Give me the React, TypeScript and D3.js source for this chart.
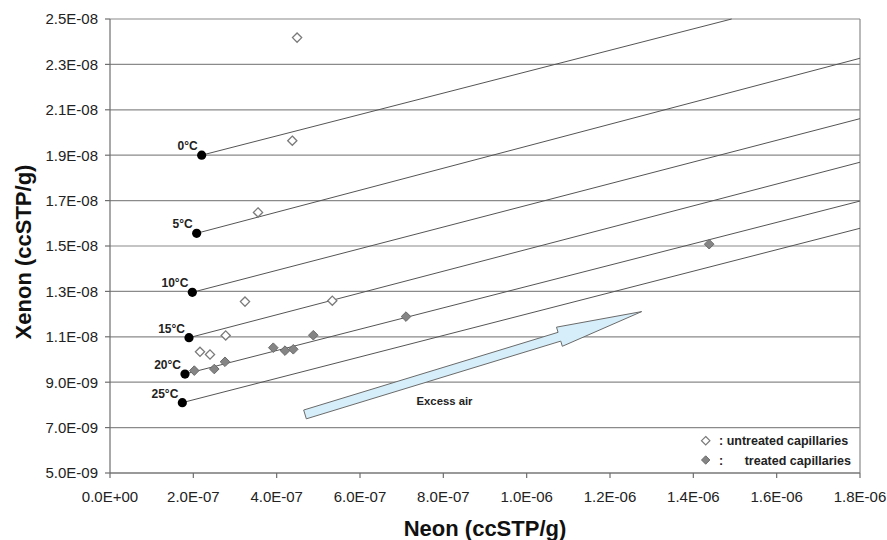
import React from "react";
import * as d3 from "d3";

// ---- data ----
const xTickValues = [0, 2e-7, 4e-7, 6e-7, 8e-7, 1.0e-6, 1.2e-6, 1.4e-6, 1.6e-6, 1.8e-6];
const xTickLabels = ["0.0E+00", "2.0E-07", "4.0E-07", "6.0E-07", "8.0E-07", "1.0E-06", "1.2E-06", "1.4E-06", "1.6E-06", "1.8E-06"];
const yTickValues = [5e-9, 7e-9, 9e-9, 1.1e-8, 1.3e-8, 1.5e-8, 1.7e-8, 1.9e-8, 2.1e-8, 2.3e-8, 2.5e-8];
const yTickLabels = ["5.0E-09", "7.0E-09", "9.0E-09", "1.1E-08", "1.3E-08", "1.5E-08", "1.7E-08", "1.9E-08", "2.1E-08", "2.3E-08", "2.5E-08"];

// equilibrium (black dots) per temperature
const tempLabels = ["0°C", "5°C", "10°C", "15°C", "20°C", "25°C"];
const eqNe = [2.2e-7, 2.08e-7, 1.976e-7, 1.896e-7, 1.8e-7, 1.736e-7];
const eqXe = [1.9e-8, 1.556e-8, 1.296e-8, 1.096e-8, 9.36e-9, 8.1e-9];
// excess-air line end points
const endNe = [1.492e-6, 1.8e-6, 1.8e-6, 1.8e-6, 1.8e-6, 1.8e-6];
const endXe = [2.5e-8, 2.327e-8, 2.061e-8, 1.869e-8, 1.698e-8, 1.578e-8];

// untreated capillaries (open diamonds)
const untreatedNe = [4.49e-7, 4.375e-7, 3.552e-7, 3.24e-7, 5.335e-7, 2.777e-7, 2.16e-7, 2.4e-7];
const untreatedXe = [2.418e-8, 1.964e-8, 1.648e-8, 1.255e-8, 1.259e-8, 1.106e-8, 1.034e-8, 1.022e-8];

// treated capillaries (grey diamonds)
const treatedNe = [2.023e-7, 2.503e-7, 2.76e-7, 3.919e-7, 4.2e-7, 4.399e-7, 4.879e-7, 7.104e-7, 1.438e-6];
const treatedXe = [9.51e-9, 9.58e-9, 9.9e-9, 1.052e-8, 1.039e-8, 1.045e-8, 1.107e-8, 1.189e-8, 1.508e-8];

// excess air arrow (tail centre -> tip)
const arrowNe = [4.68e-7, 1.276e-6];
const arrowXe = [7.58e-9, 1.211e-8];

const FONT = "'Liberation Sans', Arial, Helvetica, sans-serif";

function diamond(cx: number, cy: number, r: number) {
  return `M${cx},${cy - r}L${cx + r},${cy}L${cx},${cy + r}L${cx - r},${cy}Z`;
}

export default function App() {
  const W = 887, H = 540;
  const x = d3.scaleLinear().domain([0, 1.8e-6]).range([110, 860]);
  const y = d3.scaleLinear().domain([5e-9, 2.5e-8]).range([473, 19]);
  const [x0, x1] = x.range();
  const [yb, yt] = y.range();
  const grid = "#8a8a8a";

  // arrow geometry
  const tx = x(arrowNe[0]), ty = y(arrowXe[0]);
  const hx = x(arrowNe[1]), hy = y(arrowXe[1]);
  const len = Math.hypot(hx - tx, hy - ty);
  const ux = (hx - tx) / len, uy = (hy - ty) / len;
  const nx = -uy, ny = ux;
  const sw = 4.6, hw = 10, hl = 86;
  const bx = hx - ux * hl, by = hy - uy * hl;
  const arrowPts = [
    [tx + nx * sw, ty + ny * sw],
    [bx + nx * sw, by + ny * sw],
    [bx + nx * hw, by + ny * hw],
    [hx, hy],
    [bx - nx * hw, by - ny * hw],
    [bx - nx * sw, by - ny * sw],
    [tx - nx * sw, ty - ny * sw],
  ];
  const arrowPath = "M" + arrowPts.map((p) => p.join(",")).join("L") + "Z";

  return (
    <svg width={W} height={H} style={{ position: "absolute", left: 0, top: 0, background: "#fff" }} fontFamily={FONT}>
      {/* gridlines */}
      {yTickValues.map((v, i) => (
        <line key={"g" + i} x1={x0} x2={x1} y1={y(v)} y2={y(v)} stroke={grid} strokeWidth={1.2} />
      ))}
      {/* right border */}
      <line x1={x1} x2={x1} y1={yt} y2={yb} stroke={grid} strokeWidth={1.2} />
      {/* axes */}
      <line x1={x0} x2={x0} y1={yt} y2={yb} stroke="#6e6e6e" strokeWidth={1.2} />
      <line x1={x0} x2={x1} y1={yb} y2={yb} stroke="#6e6e6e" strokeWidth={1.2} />
      {yTickValues.map((v, i) => (
        <g key={"yt" + i}>
          <line x1={x0 - 5} x2={x0} y1={y(v)} y2={y(v)} stroke="#6e6e6e" strokeWidth={1.2} />
          <text x={98} y={y(v) + 5.3} fontSize={15} textAnchor="end" fill="#222">
            {yTickLabels[i]}
          </text>
        </g>
      ))}
      {xTickValues.map((v, i) => (
        <g key={"xt" + i}>
          <line x1={x(v)} x2={x(v)} y1={yb} y2={yb + 5} stroke="#6e6e6e" strokeWidth={1.2} />
          <text x={x(v)} y={501.5} fontSize={15} textAnchor="middle" fill="#222">
            {xTickLabels[i]}
          </text>
        </g>
      ))}

      {/* excess air lines */}
      {eqNe.map((v, i) => (
        <line key={"l" + i} x1={x(v)} y1={y(eqXe[i])} x2={x(endNe[i])} y2={y(endXe[i])} stroke="#555" strokeWidth={1} />
      ))}

      {/* arrow */}
      <path d={arrowPath} fill="#d5eef9" stroke="#6a6a6a" strokeWidth={1} />
      <text x={444.5} y={404.8} fontSize={11.3} fontWeight="bold" textAnchor="middle" fill="#222">
        Excess air
      </text>

      {/* untreated */}
      {untreatedNe.map((v, i) => (
        <path key={"u" + i} d={diamond(x(v), y(untreatedXe[i]), 4.6)} fill="#fff" stroke="#7a7a7a" strokeWidth={1.3} />
      ))}
      {/* treated */}
      {treatedNe.map((v, i) => (
        <path key={"t" + i} d={diamond(x(v), y(treatedXe[i]), 4.8)} fill="#858585" stroke="#6a6a6a" strokeWidth={1} />
      ))}

      {/* equilibrium points */}
      {eqNe.map((v, i) => (
        <g key={"e" + i}>
          <circle cx={x(v)} cy={y(eqXe[i])} r={4.6} fill="#000" />
          <text x={x(v) - 4} y={y(eqXe[i]) - 5} fontSize={12} fontWeight="bold" textAnchor="end" fill="#222">
            {tempLabels[i]}
          </text>
        </g>
      ))}

      {/* legend */}
      <path d={diamond(705.7, 440.7, 4.2)} fill="#fff" stroke="#7a7a7a" strokeWidth={1.2} />
      <text x={719} y={445} fontSize={12.5} fontWeight="bold" fill="#222">: untreated capillaries</text>
      <path d={diamond(705.7, 460, 4.2)} fill="#858585" stroke="#6a6a6a" strokeWidth={1} />
      <text x={719} y={464.5} fontSize={12.5} fontWeight="bold" fill="#222">:</text>
      <text x={851} y={464.5} fontSize={12.5} fontWeight="bold" textAnchor="end" fill="#222">treated capillaries</text>

      {/* axis titles */}
      <text x={485} y={536} fontSize={22} fontWeight="bold" textAnchor="middle" fill="#111">
        Neon (ccSTP/g)
      </text>
      <text transform={`translate(31,252) rotate(-90)`} fontSize={22} fontWeight="bold" textAnchor="middle" fill="#111">
        Xenon (ccSTP/g)
      </text>
    </svg>
  );
}
